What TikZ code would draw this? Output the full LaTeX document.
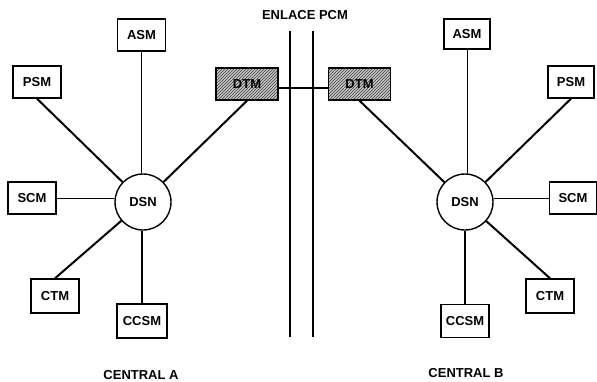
\documentclass[tikz,border=0pt]{standalone}
\usepackage{fontspec}
\setmainfont{Liberation Sans}
\usetikzlibrary{patterns}

\tikzset{
  modulo/.style={draw, line width=1.4pt, minimum width=48pt, minimum height=32pt,
    inner sep=0pt, font=\fontsize{13}{15}\selectfont\bfseries},
  dtmbox/.style={modulo, minimum width=62pt, preaction={fill=gray!45},
    pattern=north east lines, pattern color=black!75},
  dsn/.style={draw, circle, line width=1.4pt, minimum size=56pt, inner sep=0pt,
    font=\fontsize{13}{15}\selectfont\bfseries},
  titulo/.style={font=\fontsize{13}{15}\selectfont\bfseries},
  fino/.style={line width=0.9pt},
  medio/.style={line width=1.3pt},
  grueso/.style={line width=2pt}
}

\begin{document}
\begin{tikzpicture}[x=1pt, y=-1pt]
  \useasboundingbox (0,0) rectangle (597,381);

  % enlace PCM
  \node[titulo] (enlace) at (305,15) {ENLACE PCM};
  \coordinate (pcm1a) at (290,31);
  \coordinate (pcm1b) at (290,337);
  \coordinate (pcm2a) at (313,31);
  \coordinate (pcm2b) at (313,337);
  \draw[medio] (pcm1a) -- (pcm1b);
  \draw[medio] (pcm2a) -- (pcm2b);

  % central A
  \node[dsn] (dsnA) at (143,202) {DSN};
  \node[modulo] (asmA) at (141.5,35) {ASM};
  \node[modulo] (psmA) at (37,82) {PSM};
  \node[dtmbox] (dtmA) at (247,84) {DTM};
  \node[modulo] (scmA) at (32,198) {SCM};
  \node[modulo, minimum height=34pt] (ctmA) at (55,296) {CTM};
  \node[modulo, minimum width=50pt, minimum height=34pt] (ccsmA) at (142,321) {CCSM};
  \draw[fino] (asmA.south) -- (asmA.south |- dsnA.north);
  \draw[grueso] (psmA.south) -- (dsnA);
  \draw[grueso] (dtmA.south) -- (dsnA);
  \draw[fino] (scmA.east) -- (dsnA.west |- scmA.east);
  \draw[grueso] (ctmA.north) -- (dsnA);
  \draw[medio] (ccsmA.north) -- (ccsmA.north |- dsnA.south);
  \node[titulo] (centralA) at (141,375) {CENTRAL A};

  % central B
  \node[dsn] (dsnB) at (465,202) {DSN};
  \node[modulo, minimum width=46pt, minimum height=30pt] (asmB) at (467,34) {ASM};
  \node[modulo, minimum width=46pt] (psmB) at (571,82) {PSM};
  \node[dtmbox] (dtmB) at (359.5,84) {DTM};
  \node[modulo, minimum width=47pt] (scmB) at (573,198) {SCM};
  \node[modulo, minimum height=34pt] (ctmB) at (550,296) {CTM};
  \node[modulo, minimum height=33pt] (ccsmB) at (465,321) {CCSM};
  \draw[fino] (asmB.south) -- (asmB.south |- dsnB.north);
  \draw[grueso] (psmB.south) -- (dsnB);
  \draw[grueso] (dtmB.south) -- (dsnB);
  \draw[fino] (scmB.west) -- (dsnB.east |- scmB.west);
  \draw[grueso] (ctmB.north) -- (dsnB);
  \draw[medio] (ccsmB.north) -- (ccsmB.north |- dsnB.south);
  \node[titulo] (centralB) at (466,373) {CENTRAL B};

  % enlace entre los DTM
  \draw[medio] ([yshift=-4pt]dtmA.east) -- ([yshift=-4pt]dtmB.west);
\end{tikzpicture}
\end{document}
